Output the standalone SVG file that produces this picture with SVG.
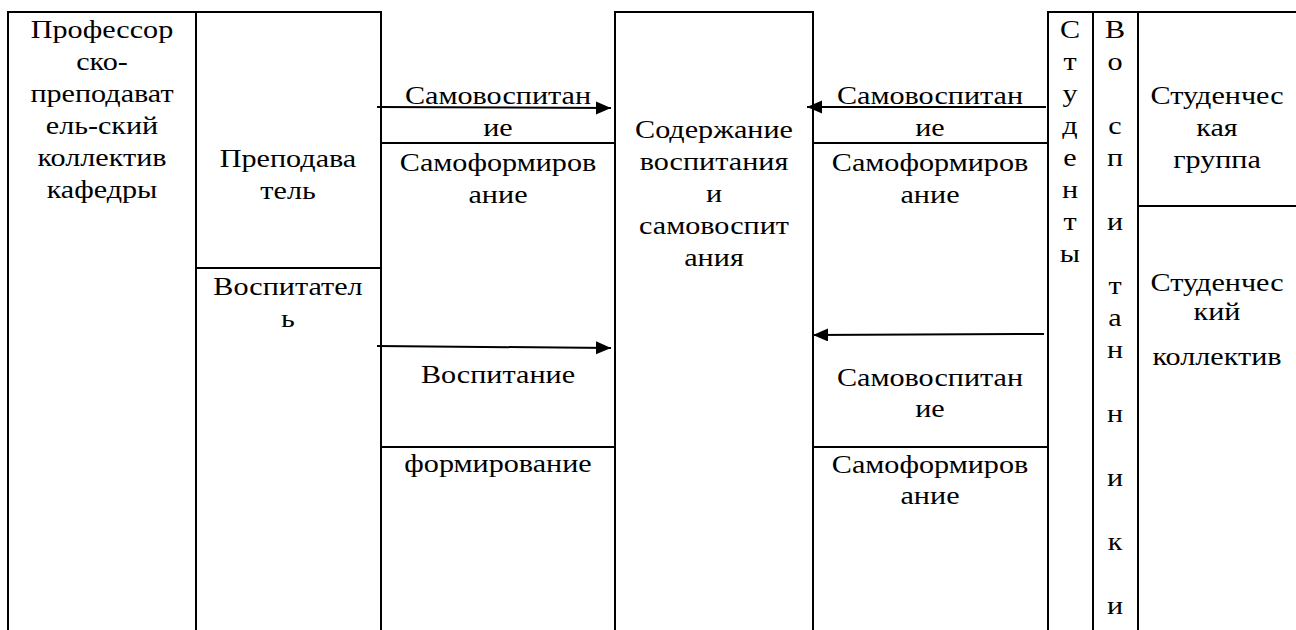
<svg xmlns="http://www.w3.org/2000/svg" width="1296" height="630" viewBox="0 0 1296 630">
<style>
  .ln { stroke: #000; stroke-width: 2; fill: none; }
  .t { font-family: "Liberation Serif", "Liberation Sans", sans-serif; font-size: 26px; fill: #000; text-anchor: middle; }
  .ar { stroke: #000; stroke-width: 2; fill: none; }
</style>
<defs>
  <marker id="ah" markerUnits="userSpaceOnUse" markerWidth="16" markerHeight="14" refX="15" refY="6.5" orient="auto">
    <path d="M0,0 L15,6.5 L0,13 Z" fill="#000"/>
  </marker>
</defs>
<rect width="1296" height="630" fill="#fff"/>

<g id="prof-collective">
  <path class="ln" d="M8,630 V12 H196 V630"/>
  <text class="t" transform="translate(102,38) scale(1.16,1)">Профессор</text>
  <text class="t" transform="translate(102,70) scale(1.16,1)">ско-</text>
  <text class="t" transform="translate(102,102) scale(1.16,1)">преподават</text>
  <text class="t" transform="translate(102,134) scale(1.16,1)">ель-ский</text>
  <text class="t" transform="translate(102,166) scale(1.16,1)">коллектив</text>
  <text class="t" transform="translate(102,198) scale(1.16,1)">кафедры</text>
</g>

<g id="teacher">
  <path class="ln" d="M196,12 H381 V268 H196"/>
  <text class="t" transform="translate(288,167) scale(1.16,1)">Преподава</text>
  <text class="t" transform="translate(288,199) scale(1.16,1)">тель</text>
</g>

<g id="educator">
  <path class="ln" d="M381,268 V630"/>
  <text class="t" transform="translate(288,295) scale(1.16,1)">Воспитател</text>
  <text class="t" transform="translate(288,327) scale(1.16,1)">ь</text>
</g>

<g id="left-self-education">
  <path class="ln" d="M381,143 H615"/>
  <text class="t" transform="translate(498,104) scale(1.16,1)">Самовоспитан</text>
  <text class="t" transform="translate(498,136) scale(1.16,1)">ие</text>
</g>

<g id="left-self-formation">
  <text class="t" transform="translate(498,171) scale(1.16,1)">Самоформиров</text>
  <text class="t" transform="translate(498,203) scale(1.16,1)">ание</text>
</g>

<g id="left-education">
  <path class="ln" d="M381,447 H615"/>
  <text class="t" transform="translate(498,383) scale(1.16,1)">Воспитание</text>
</g>

<g id="left-formation">
  <text class="t" transform="translate(498,472) scale(1.16,1)">формирование</text>
</g>

<g id="content">
  <path class="ln" d="M615,630 V12 H813 V630"/>
  <text class="t" transform="translate(714,138) scale(1.16,1)">Содержание</text>
  <text class="t" transform="translate(714,170) scale(1.16,1)">воспитания</text>
  <text class="t" transform="translate(714,202) scale(1.16,1)">и</text>
  <text class="t" transform="translate(714,234) scale(1.16,1)">самовоспит</text>
  <text class="t" transform="translate(714,266) scale(1.16,1)">ания</text>
</g>

<g id="right-self-education-top">
  <path class="ln" d="M813,143 H1048"/>
  <text class="t" transform="translate(930,104) scale(1.16,1)">Самовоспитан</text>
  <text class="t" transform="translate(930,136) scale(1.16,1)">ие</text>
</g>

<g id="right-self-formation-top">
  <text class="t" transform="translate(930,171) scale(1.16,1)">Самоформиров</text>
  <text class="t" transform="translate(930,203) scale(1.16,1)">ание</text>
</g>

<g id="right-self-education-bottom">
  <path class="ln" d="M813,447 H1048"/>
  <text class="t" transform="translate(930,386) scale(1.16,1)">Самовоспитан</text>
  <text class="t" transform="translate(930,417) scale(1.16,1)">ие</text>
</g>

<g id="right-self-formation-bottom">
  <text class="t" transform="translate(930,473) scale(1.16,1)">Самоформиров</text>
  <text class="t" transform="translate(930,504) scale(1.16,1)">ание</text>
</g>

<g id="students">
  <path class="ln" d="M1048,630 V12 H1093 V630"/>
  <text class="t" transform="translate(1070,38) scale(1.16,1)">С</text>
  <text class="t" transform="translate(1070,70) scale(1.16,1)">т</text>
  <text class="t" transform="translate(1070,102) scale(1.16,1)">у</text>
  <text class="t" transform="translate(1070,134) scale(1.16,1)">д</text>
  <text class="t" transform="translate(1070,166) scale(1.16,1)">е</text>
  <text class="t" transform="translate(1070,198) scale(1.16,1)">н</text>
  <text class="t" transform="translate(1070,230) scale(1.16,1)">т</text>
  <text class="t" transform="translate(1070,262) scale(1.16,1)">ы</text>
</g>

<g id="pupils">
  <path class="ln" d="M1093,12 H1138 V630"/>
  <text class="t" transform="translate(1115,38) scale(1.16,1)">В</text>
  <text class="t" transform="translate(1115,70) scale(1.16,1)">о</text>
  <text class="t" transform="translate(1115,134) scale(1.16,1)">с</text>
  <text class="t" transform="translate(1115,166) scale(1.16,1)">п</text>
  <text class="t" transform="translate(1115,230) scale(1.16,1)">и</text>
  <text class="t" transform="translate(1115,294) scale(1.16,1)">т</text>
  <text class="t" transform="translate(1115,326) scale(1.16,1)">а</text>
  <text class="t" transform="translate(1115,358) scale(1.16,1)">н</text>
  <text class="t" transform="translate(1115,422) scale(1.16,1)">н</text>
  <text class="t" transform="translate(1115,486) scale(1.16,1)">и</text>
  <text class="t" transform="translate(1115,550) scale(1.16,1)">к</text>
  <text class="t" transform="translate(1115,614) scale(1.16,1)">и</text>
</g>

<g id="student-group">
  <path class="ln" d="M1138,12 H1296 M1138,206 H1296"/>
  <text class="t" transform="translate(1217,104) scale(1.16,1)">Студенчес</text>
  <text class="t" transform="translate(1217,136) scale(1.16,1)">кая</text>
  <text class="t" transform="translate(1217,168) scale(1.16,1)">группа</text>
</g>

<g id="student-collective">
  <text class="t" transform="translate(1217,291) scale(1.16,1)">Студенчес</text>
  <text class="t" transform="translate(1217,320) scale(1.16,1)">кий</text>
  <text class="t" transform="translate(1217,365) scale(1.16,1)">коллектив</text>
</g>

<g id="connectors">
  <line class="ar" x1="377" y1="107" x2="611" y2="108" marker-end="url(#ah)"/>
  <line class="ar" x1="1046" y1="107" x2="807" y2="107" marker-end="url(#ah)"/>
  <line class="ar" x1="377" y1="346" x2="611" y2="348" marker-end="url(#ah)"/>
  <line class="ar" x1="1044" y1="334" x2="813" y2="335" marker-end="url(#ah)"/>
</g>
</svg>
